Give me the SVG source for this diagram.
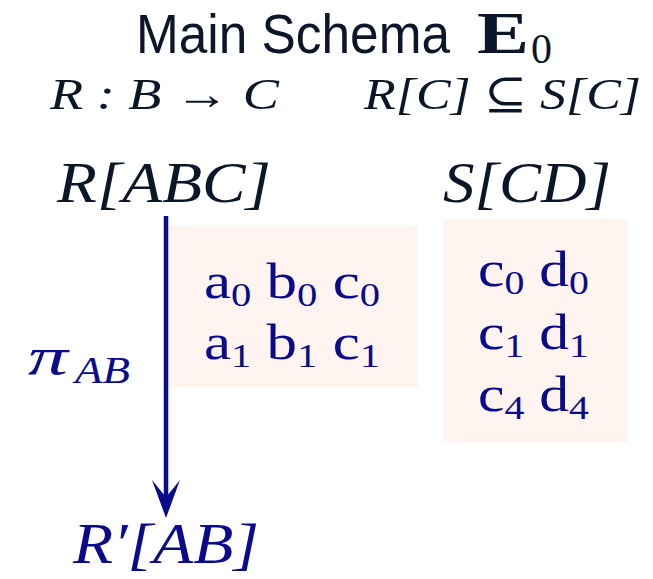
<svg xmlns="http://www.w3.org/2000/svg" width="653" height="579" viewBox="0 0 653 579">
<style>
.dark{fill:#0b1628}
.navy{fill:#0a0a8c}
.m{font-family:"Liberation Serif","DejaVu Serif",serif;font-style:italic}
.u{font-family:"Liberation Serif","DejaVu Serif",serif}
.s{font-family:"Liberation Sans","DejaVu Sans",sans-serif}
.box{fill:#fff4ef}
.sub{font-size:34px}
</style>
<rect width="653" height="579" fill="#ffffff"/>
<g id="title">
<text class="s dark" x="136" y="53" font-size="56" textLength="314" lengthAdjust="spacingAndGlyphs">Main Schema</text>
<text class="u dark" x="477" y="53" font-size="60" font-weight="bold" textLength="52" lengthAdjust="spacingAndGlyphs">E</text>
<text class="u dark" x="531" y="63" font-size="42">0</text>
</g>
<g id="constraints">
<text class="m dark" x="50" y="109" font-size="45" textLength="229" lengthAdjust="spacingAndGlyphs">R : B → C</text>
<text class="m dark" x="364" y="109" font-size="45" textLength="277" lengthAdjust="spacingAndGlyphs">R[C] ⊆ S[C]</text>
</g>
<g id="R">
<text class="m dark" x="57" y="202" font-size="56" textLength="214" lengthAdjust="spacingAndGlyphs">R[ABC]</text>
<rect class="box" x="168" y="226" width="250" height="161"/>
<text class="u navy" x="204" y="298" font-size="51" textLength="176" lengthAdjust="spacingAndGlyphs">a<tspan class="sub" dy="8">0</tspan><tspan dy="-8"> b</tspan><tspan class="sub" dy="8">0</tspan><tspan dy="-8"> c</tspan><tspan class="sub" dy="8">0</tspan></text>
<text class="u navy" x="204" y="359" font-size="51" textLength="176" lengthAdjust="spacingAndGlyphs">a<tspan class="sub" dy="8">1</tspan><tspan dy="-8"> b</tspan><tspan class="sub" dy="8">1</tspan><tspan dy="-8"> c</tspan><tspan class="sub" dy="8">1</tspan></text>
</g>
<g id="S">
<text class="m dark" x="443" y="202" font-size="56" textLength="168" lengthAdjust="spacingAndGlyphs">S[CD]</text>
<rect class="box" x="443" y="219" width="184" height="223"/>
<text class="u navy" x="478" y="286" font-size="51" textLength="111" lengthAdjust="spacingAndGlyphs">c<tspan class="sub" dy="8">0</tspan><tspan dy="-8"> d</tspan><tspan class="sub" dy="8">0</tspan></text>
<text class="u navy" x="478" y="349" font-size="51" textLength="111" lengthAdjust="spacingAndGlyphs">c<tspan class="sub" dy="8">1</tspan><tspan dy="-8"> d</tspan><tspan class="sub" dy="8">1</tspan></text>
<text class="u navy" x="478" y="411" font-size="51" textLength="111" lengthAdjust="spacingAndGlyphs">c<tspan class="sub" dy="8">4</tspan><tspan dy="-8"> d</tspan><tspan class="sub" dy="8">4</tspan></text>
</g>
<g id="Rprime">
<text class="m navy" x="73" y="563" font-size="56" textLength="186" lengthAdjust="spacingAndGlyphs">R′[AB]</text>
</g>
<g id="connectors">
<line x1="166" y1="216" x2="166" y2="500" stroke="#0a0a8c" stroke-width="4.5"/>
<path d="M152,480 Q160,490 166,497 Q172,490 180,480 L166,518 Z" fill="#0a0a8c"/>
<text class="m navy" x="28" y="374" font-size="52" textLength="40" lengthAdjust="spacingAndGlyphs">π</text>
<text class="m navy" x="75" y="383" font-size="38" textLength="55" lengthAdjust="spacingAndGlyphs">AB</text>
</g>
</svg>
